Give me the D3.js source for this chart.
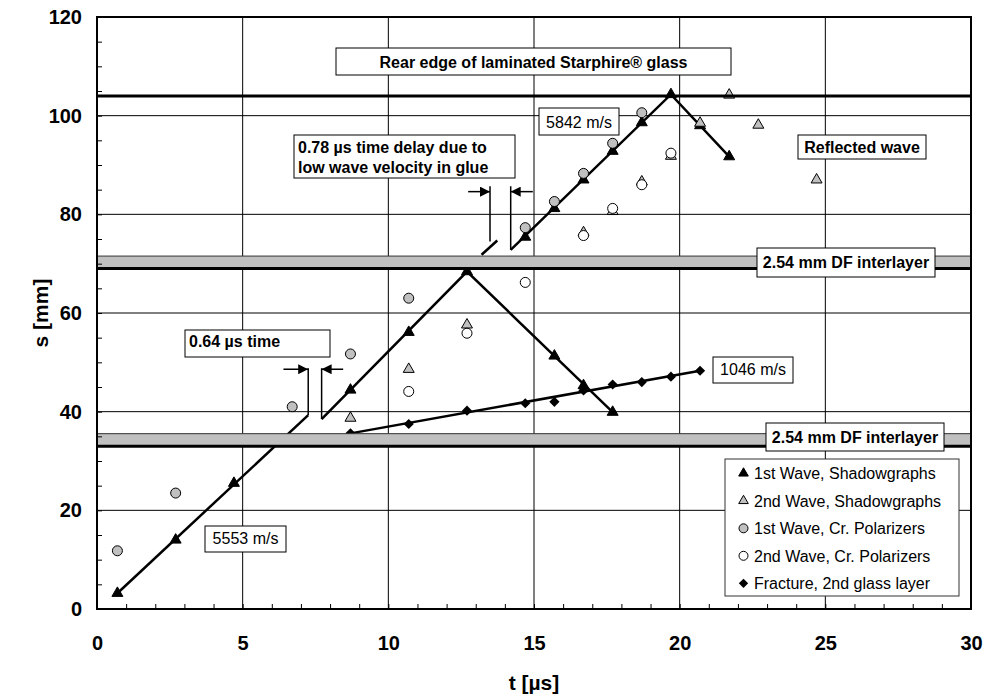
<!DOCTYPE html>
<html lang="en">
<head>
<meta charset="UTF-8" />
<title>Wave and fracture propagation</title>
<script src="https://d3js.org/d3.v7.min.js"></script>
<style>
  body { margin: 0; background: #fff; }
  svg text { font-family: "Liberation Sans", Arial, sans-serif; fill: #000; }
</style>
</head>
<body>
<div id="chart"></div>
<script>
const xTicks = [0, 5, 10, 15, 20, 25, 30]
const yTicks = [0, 20, 40, 60, 80, 100, 120]

// 1st wave, shadowgraphs (black triangles)
const shadow1T = [0.7, 2.7, 4.7, 8.7, 10.7, 12.7, 15.7, 16.7, 17.7, 14.7, 15.7, 16.7, 17.7, 18.7, 19.7, 20.7, 21.7]
const shadow1S = [3.2, 14.0, 25.5, 44.4, 56.1, 68.4, 51.3, 45.3, 39.9, 75.4, 81.2, 87.0, 92.8, 98.6, 104.3, 98.0, 91.7]
// 2nd wave, shadowgraphs (grey triangles)
const shadow2T = [8.7, 10.7, 12.7, 16.7, 17.7, 18.7, 19.7, 20.7, 21.7, 22.7, 24.7]
const shadow2S = [38.7, 48.6, 57.6, 76.3, 80.6, 86.6, 91.8, 98.5, 104.2, 98.1, 87.0]
// 1st wave, crossed polarizers (grey circles)
const polar1T = [0.7, 2.7, 6.7, 8.7, 10.7, 14.7, 15.7, 16.7, 17.7, 18.7]
const polar1S = [11.8, 23.5, 41.0, 51.7, 63.0, 77.3, 82.6, 88.3, 94.4, 100.6]
// 2nd wave, crossed polarizers (open circles)
const polar2T = [10.7, 12.7, 14.7, 16.7, 17.7, 18.7, 19.7]
const polar2S = [44.1, 55.9, 66.2, 75.7, 81.2, 86.0, 92.4]
// fracture, 2nd glass layer (diamonds)
const fractT = [8.7, 10.7, 12.7, 14.7, 15.7, 16.7, 17.7, 18.7, 19.7, 20.7]
const fractS = [35.6, 37.5, 40.2, 41.7, 42.0, 44.3, 45.5, 46.0, 47.1, 48.3]

// drawn fit lines [t, s]
const fitLines = [
  [[0.7, 3.2], [7.25, 39.3]],
  [[7.71, 38.5], [12.7, 68.4], [17.7, 39.9]],
  [[13.2, 71.8], [13.74, 74.7]],
  [[14.2, 72.8], [19.7, 104.3], [21.7, 91.7]],
  [[8.7, 35.6], [20.7, 48.3]]
]

// layers
const rearEdge = 104
const interlayers = [[69, 71.54], [33, 35.54]]

const width = 989
const height = 698
const x = d3.scaleLinear().domain([0, 30]).range([97, 971])
const y = d3.scaleLinear().domain([0, 120]).range([609, 17])

const svg = d3.select('#chart').append('svg')
  .attr('width', width).attr('height', height)

svg.append('defs').append('marker')
  .attr('id', 'arr')
  .attr('viewBox', '0 0 10 10')
  .attr('refX', 10).attr('refY', 5)
  .attr('markerWidth', 10).attr('markerHeight', 10)
  .attr('markerUnits', 'userSpaceOnUse')
  .attr('orient', 'auto')
  .append('path').attr('d', 'M0,0 L10,5 L0,10 Z').attr('fill', '#000')

// grid
const grid = svg.append('g')
grid.selectAll('.vg').data(xTicks.slice(1, -1)).join('line')
  .attr('x1', d => x(d)).attr('x2', d => x(d))
  .attr('y1', y(0)).attr('y2', y(120))
  .attr('stroke', '#000').attr('stroke-width', 1)
grid.selectAll('.hg').data(yTicks.slice(1, -1)).join('line')
  .attr('y1', d => y(d)).attr('y2', d => y(d))
  .attr('x1', x(0)).attr('x2', x(30))
  .attr('stroke', '#000').attr('stroke-width', 1)

// fit lines
const line = d3.line().x(d => x(d[0])).y(d => y(d[1]))
svg.append('g').selectAll('path').data(fitLines).join('path')
  .attr('d', line).attr('fill', 'none')
  .attr('stroke', '#000').attr('stroke-width', 2.5)

// markers
const tri = d3.symbol(d3.symbolTriangle, 52)
const zip = (a, b) => a.map((v, i) => [v, b[i]])

function drawTri(g, T, S, fill) {
  g.selectAll(null).data(zip(T, S)).join('path')
    .attr('d', tri)
    .attr('transform', d => `translate(${x(d[0])},${y(d[1])})`)
    .attr('fill', fill).attr('stroke', '#000').attr('stroke-width', 1)
}
function drawCirc(g, T, S, fill) {
  g.selectAll(null).data(zip(T, S)).join('circle')
    .attr('cx', d => x(d[0])).attr('cy', d => y(d[1])).attr('r', 5)
    .attr('fill', fill).attr('stroke', '#000').attr('stroke-width', 1)
}
const marks = svg.append('g')
drawTri(marks, shadow1T, shadow1S, '#000')
drawTri(marks, shadow2T, shadow2S, '#c0c0c0')
drawCirc(marks, polar1T, polar1S, '#c0c0c0')
drawCirc(marks, polar2T, polar2S, '#fff')
marks.selectAll(null).data(zip(fractT, fractS)).join('rect')
  .attr('x', -3.6).attr('y', -3.6).attr('width', 7.2).attr('height', 7.2)
  .attr('transform', d => `translate(${x(d[0])},${y(d[1])}) rotate(45)`)
  .attr('fill', '#000')

// interlayer bands and rear edge
const bands = svg.append('g')
interlayers.forEach(([lo, hi]) => {
  bands.append('rect')
    .attr('x', x(0)).attr('width', x(30) - x(0))
    .attr('y', y(hi)).attr('height', y(lo) - y(hi))
    .attr('fill', '#c0c0c0').attr('stroke', '#333').attr('stroke-width', 1)
  bands.append('line')
    .attr('x1', x(0)).attr('x2', x(30))
    .attr('y1', y(lo)).attr('y2', y(lo))
    .attr('stroke', '#000').attr('stroke-width', 3)
})
bands.append('line')
  .attr('x1', x(0)).attr('x2', x(30))
  .attr('y1', y(rearEdge)).attr('y2', y(rearEdge))
  .attr('stroke', '#000').attr('stroke-width', 3)

// time delay brackets
const gapLegs = [[7.25, 39.3, 48.8], [7.71, 38.5, 48.8], [13.49, 74.5, 85.7], [14.2, 72.8, 85.7]]
const gapArrows = [[6.4, 7.25, 48.6], [8.45, 7.71, 48.6], [12.74, 13.49, 84.6], [14.96, 14.2, 84.6]]
const ann = svg.append('g')
ann.selectAll('.leg').data(gapLegs).join('line')
  .attr('x1', d => x(d[0])).attr('x2', d => x(d[0]))
  .attr('y1', d => y(d[1])).attr('y2', d => y(d[2]))
  .attr('stroke', '#000').attr('stroke-width', 1.5)
ann.selectAll('.arrow').data(gapArrows).join('line')
  .attr('x1', d => x(d[0])).attr('x2', d => x(d[1]))
  .attr('y1', d => y(d[2])).attr('y2', d => y(d[2]))
  .attr('stroke', '#000').attr('stroke-width', 1.5)
  .attr('marker-end', 'url(#arr)')

// text boxes
function box(x0, y0, x1, y1, lines, opt) {
  const g = svg.append('g')
  g.append('rect').attr('x', x0).attr('y', y0)
    .attr('width', x1 - x0).attr('height', y1 - y0)
    .attr('fill', '#fff').attr('stroke', '#000').attr('stroke-width', 1)
  const t = g.append('text')
    .attr('font-size', 16)
    .attr('font-weight', opt.bold ? 'bold' : 'normal')
    .attr('text-anchor', opt.left ? 'start' : 'middle')
  lines.forEach((s, i) => {
    t.append('tspan')
      .attr('x', opt.left ? x0 + 4 : (x0 + x1) / 2)
      .attr('y', opt.base[i]).text(s)
  })
}
box(336, 48, 731, 75, ['Rear edge of laminated Starphire® glass'], { bold: true, base: [68] })
box(294, 135, 515, 178, ['0.78 µs time delay due to', 'low wave velocity in glue'], { bold: true, left: true, base: [152.5, 173] })
box(539, 108, 619, 135, ['5842 m/s'], { base: [127.5] })
box(798, 135, 926, 159, ['Reflected wave'], { bold: true, base: [153.3] })
box(757, 248, 935, 277, ['2.54 mm DF interlayer'], { bold: true, base: [268.3] })
box(766, 423, 944, 451, ['2.54 mm DF interlayer'], { bold: true, base: [443.3] })
box(185, 330, 330, 357, ['0.64 µs time'], { bold: true, left: true, base: [346.7] })
box(713, 357, 793, 383, ['1046 m/s'], { base: [375] })
box(205, 526, 286, 552, ['5553 m/s'], { base: [544.3] })

// legend
const legendItems = [
  { name: '1st Wave, Shadowgraphs', shape: 'tri', fill: '#000' },
  { name: '2nd Wave, Shadowgraphs', shape: 'tri', fill: '#c0c0c0' },
  { name: '1st Wave, Cr. Polarizers', shape: 'circ', fill: '#c0c0c0' },
  { name: '2nd Wave, Cr. Polarizers', shape: 'circ', fill: '#fff' },
  { name: 'Fracture, 2nd glass layer', shape: 'dia', fill: '#000' }
]
const lg = svg.append('g')
lg.append('rect').attr('x', 725).attr('y', 459).attr('width', 234).attr('height', 137)
  .attr('fill', '#fff').attr('stroke', '#333').attr('stroke-width', 1)
legendItems.forEach((d, i) => {
  const cy = 473.3 + i * 27.5
  const g = lg.append('g').attr('transform', `translate(743.5,${cy})`)
  if (d.shape === 'tri') {
    g.append('path').attr('d', d3.symbol(d3.symbolTriangle, 40)())
      .attr('fill', d.fill).attr('stroke', '#000').attr('stroke-width', 1)
  } else if (d.shape === 'circ') {
    g.append('circle').attr('r', 4.5)
      .attr('fill', d.fill).attr('stroke', '#000').attr('stroke-width', 1)
  } else {
    g.append('rect').attr('x', -3.3).attr('y', -3.3).attr('width', 6.6).attr('height', 6.6)
      .attr('transform', 'rotate(45)').attr('fill', d.fill)
  }
  lg.append('text').attr('x', 754).attr('y', cy + 5.8)
    .attr('font-size', 16).text(d.name)
})

// axes
const xAxis = svg.append('g').attr('transform', `translate(0,${y(0)})`)
  .call(d3.axisBottom(x).tickValues(xTicks).tickSize(0).tickPadding(27).tickFormat(d3.format('d')))
const yAxis = svg.append('g').attr('transform', `translate(${x(0)},0)`)
  .call(d3.axisLeft(y).tickValues(yTicks).tickSize(0).tickPadding(15).tickFormat(d3.format('d')))
;[xAxis, yAxis].forEach(a => {
  a.select('.domain').remove()
  a.selectAll('text').attr('font-size', 20).attr('font-weight', 'bold')
    .style('font-family', '"Liberation Sans", Arial, sans-serif')
})

// minor ticks, inward
svg.append('g').attr('transform', `translate(0,${y(0)})`)
  .call(d3.axisBottom(x).ticks(30).tickSize(-5).tickFormat(''))
  .call(g => g.select('.domain').remove())
  .selectAll('line').attr('stroke-width', 1)
svg.append('g').attr('transform', `translate(${x(0)},0)`)
  .call(d3.axisLeft(y).ticks(24).tickSize(-5).tickFormat(''))
  .call(g => g.select('.domain').remove())
  .selectAll('line').attr('stroke-width', 1)

// frame
svg.append('rect').attr('x', x(0)).attr('y', y(120))
  .attr('width', x(30) - x(0)).attr('height', y(0) - y(120))
  .attr('fill', 'none').attr('stroke', '#000').attr('stroke-width', 2)

// axis titles
svg.append('text').attr('x', (x(0) + x(30)) / 2).attr('y', 690)
  .attr('text-anchor', 'middle').attr('font-size', 21).attr('font-weight', 'bold')
  .text('t [µs]')
svg.append('text')
  .attr('transform', `translate(48,${(y(0) + y(120)) / 2}) rotate(-90)`)
  .attr('text-anchor', 'middle').attr('font-size', 21).attr('font-weight', 'bold')
  .text('s [mm]')
</script>
</body>
</html>
